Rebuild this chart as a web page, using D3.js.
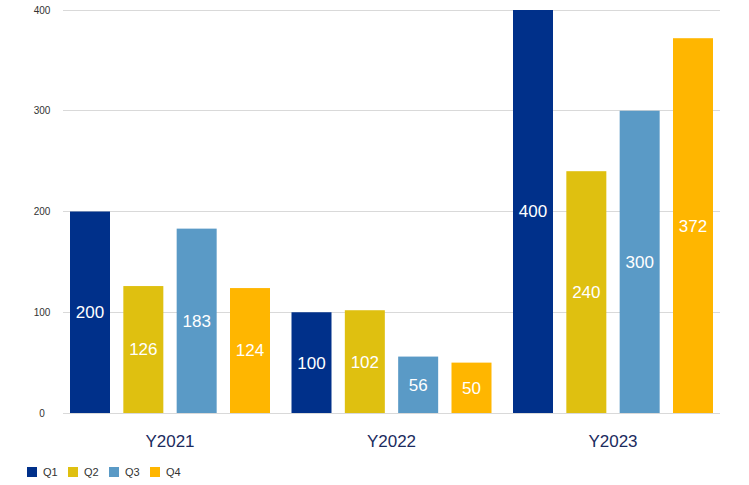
<!DOCTYPE html>
<html><head><meta charset="utf-8">
<script src="https://cdn.jsdelivr.net/npm/d3@7"></script>
<style>body{margin:0;background:#fff;font-family:"Liberation Sans",Arial,sans-serif}</style>
</head><body><svg id="c" width="749" height="485"></svg>
<script>
const groups = ["Y2021","Y2022","Y2023"];
const series = ["Q1","Q2","Q3","Q4"];
const q1 = [200,100,400];
const q2 = [126,102,240];
const q3 = [183,56,300];
const q4 = [124,50,372];
const yTicks = [0,100,200,300,400];
const colors = ["#00308a","#dfc010","#5a9ac6","#ffb600"];
const values = [q1,q2,q3,q4];

const svg = d3.select("#c");
const y = d3.scaleLinear().domain([0,400]).range([413,10]);
const x0 = d3.scaleBand().domain(groups).range([70,734.5]).paddingInner(0).paddingOuter(0);
const x1 = d3.scaleBand().domain(series).range([0,200]).paddingInner(0.25).paddingOuter(0);

// grid
svg.append("g").selectAll("line").data(yTicks).join("line")
  .attr("x1",63).attr("x2",720).attr("y1",d=>y(d)).attr("y2",d=>y(d))
  .attr("stroke","#d9d9d9").attr("stroke-width",1).attr("shape-rendering","crispEdges");
svg.append("g").selectAll("text").data(yTicks).join("text")
  .attr("x",42).attr("y",d=>y(d)).attr("dy","0.35em").attr("text-anchor","middle")
  .attr("font-size",10).attr("fill","#333").text(d=>d);

const g = svg.append("g").selectAll("g").data(groups).join("g")
  .attr("transform",d=>`translate(${x0(d)},0)`);
g.each(function(grp,gi){
  const sel = d3.select(this);
  series.forEach((s,si)=>{
    const v = values[si][gi];
    sel.append("rect").attr("x",x1(s)).attr("width",x1.bandwidth())
      .attr("y",y(v)).attr("height",y(0)-y(v)).attr("fill",colors[si]);
    sel.append("text").attr("x",x1(s)+x1.bandwidth()/2).attr("y",(y(v)+y(0))/2)
      .attr("dy","0.35em").attr("text-anchor","middle").attr("fill","#fff")
      .attr("font-size",17).text(v);
  });
  sel.append("text").attr("x",100).attr("y",441).attr("dy","0.35em")
    .attr("text-anchor","middle").attr("fill","#1b2b5e").attr("font-size",17).text(grp);
});

// legend
const lg = svg.append("g").selectAll("g").data(series).join("g")
  .attr("transform",(d,i)=>`translate(${27+i*41},467)`);
lg.append("rect").attr("width",10).attr("height",10).attr("fill",(d,i)=>colors[i]);
lg.append("text").attr("x",16).attr("y",5).attr("dy","0.35em").attr("font-size",11)
  .attr("fill","#333").text(d=>d);
</script></body></html>
